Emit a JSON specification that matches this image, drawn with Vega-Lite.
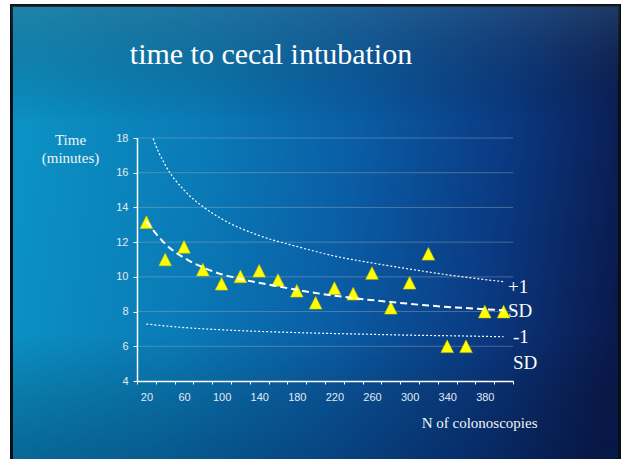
{
  "$schema": "https://vega.github.io/schema/vega-lite/v6.json",
  "width": 376,
  "height": 243,
  "autosize": {"type": "none"},
  "padding": {"left": 137, "top": 138, "right": 110, "bottom": 78},
  "background": "white",
  "config": {"view": {"stroke": null}, "font": "Liberation Sans"},
  "title": {
    "text": "time to cecal intubation",
    "font": "Liberation Serif",
    "fontSize": 30,
    "fontWeight": "normal",
    "color": "white",
    "anchor": "middle",
    "frame": "group",
    "baseline": "alphabetic",
    "dx": -54,
    "offset": -90
  },
  "datasets": {
    "bg": [{"x1": -123.5, "x2": 523.3, "y1": -1.5, "y2": 25.63}],
    "grid": [{"v": 6}, {"v": 8}, {"v": 10}, {"v": 12}, {"v": 14}, {"v": 16}, {"v": 18}],
    "pts": [
      {"n": 20, "t": 13.15}, {"n": 40, "t": 11.0}, {"n": 60, "t": 11.73}, {"n": 80, "t": 10.42},
      {"n": 100, "t": 9.6}, {"n": 120, "t": 10.03}, {"n": 140, "t": 10.35}, {"n": 160, "t": 9.82},
      {"n": 180, "t": 9.2}, {"n": 200, "t": 8.51}, {"n": 220, "t": 9.35}, {"n": 240, "t": 9.03},
      {"n": 260, "t": 10.22}, {"n": 280, "t": 8.22}, {"n": 300, "t": 9.66}, {"n": 320, "t": 11.33},
      {"n": 340, "t": 6.0}, {"n": 360, "t": 6.0}, {"n": 380, "t": 8.0}, {"n": 400, "t": 8.0}
    ],
    "curves": [
      {"s": "mean", "n": 20, "t": 13.2}, {"s": "mean", "n": 30, "t": 12.5}, {"s": "mean", "n": 40, "t": 11.9},
      {"s": "mean", "n": 60, "t": 11.1}, {"s": "mean", "n": 80, "t": 10.55}, {"s": "mean", "n": 100, "t": 10.15},
      {"s": "mean", "n": 120, "t": 9.88}, {"s": "mean", "n": 160, "t": 9.45}, {"s": "mean", "n": 200, "t": 9.07},
      {"s": "mean", "n": 240, "t": 8.78}, {"s": "mean", "n": 280, "t": 8.55}, {"s": "mean", "n": 320, "t": 8.35},
      {"s": "mean", "n": 360, "t": 8.2}, {"s": "mean", "n": 400, "t": 8.07},
      {"s": "up", "n": 20, "t": 19.3}, {"s": "up", "n": 27, "t": 18.0}, {"s": "up", "n": 40, "t": 16.45},
      {"s": "up", "n": 60, "t": 15.0}, {"s": "up", "n": 80, "t": 14.05}, {"s": "up", "n": 100, "t": 13.34},
      {"s": "up", "n": 140, "t": 12.38}, {"s": "up", "n": 180, "t": 11.75}, {"s": "up", "n": 220, "t": 11.2},
      {"s": "up", "n": 260, "t": 10.8}, {"s": "up", "n": 300, "t": 10.45}, {"s": "up", "n": 340, "t": 10.12},
      {"s": "up", "n": 400, "t": 9.72},
      {"s": "lo", "n": 20, "t": 7.28}, {"s": "lo", "n": 60, "t": 7.08}, {"s": "lo", "n": 100, "t": 6.95},
      {"s": "lo", "n": 150, "t": 6.84}, {"s": "lo", "n": 200, "t": 6.76}, {"s": "lo", "n": 250, "t": 6.7},
      {"s": "lo", "n": 300, "t": 6.64}, {"s": "lo", "n": 350, "t": 6.6}, {"s": "lo", "n": 400, "t": 6.55}
    ],
    "labels": [
      {"txt": "+1", "n": 404.7, "t": 9.43},
      {"txt": "SD", "n": 404.7, "t": 8.05},
      {"txt": "-1", "n": 410, "t": 6.51},
      {"txt": "SD", "n": 410, "t": 5.02}
    ]
  },
  "resolve": {"axis": {"x": "independent", "y": "independent"}},
  "layer": [
    {
      "data": {"name": "bg"},
      "mark": {
        "type": "rect",
        "clip": false,
        "stroke": "#0a0f14",
        "strokeWidth": 3,
        "color": {
          "gradient": "linear",
          "x1": 0, "y1": 0.45, "x2": 1, "y2": 0.55,
          "stops": [
            {"offset": 0, "color": "#0b92c4"},
            {"offset": 0.3, "color": "#0a7ab6"},
            {"offset": 0.55, "color": "#0a5ca4"},
            {"offset": 0.8, "color": "#0a3880"},
            {"offset": 1, "color": "#0a1a4e"}
          ]
        }
      },
      "encoding": {
        "x": {"field": "x1", "type": "quantitative", "scale": {"domain": [10, 410], "nice": false, "zero": false}, "axis": null},
        "x2": {"field": "x2"},
        "y": {"field": "y1", "type": "quantitative", "scale": {"domain": [4, 18], "nice": false, "zero": false}, "axis": null},
        "y2": {"field": "y2"}
      }
    },
    {
      "data": {"name": "bg"},
      "mark": {
        "type": "rect",
        "clip": false,
        "color": {
          "gradient": "linear",
          "x1": 0, "y1": 0, "x2": 0, "y2": 1,
          "stops": [
            {"offset": 0, "color": "rgba(70,100,120,0.35)"},
            {"offset": 0.25, "color": "rgba(0,0,0,0)"},
            {"offset": 0.7, "color": "rgba(0,0,0,0)"},
            {"offset": 1, "color": "rgba(0,20,60,0.35)"}
          ]
        }
      },
      "encoding": {
        "x": {"field": "x1", "type": "quantitative", "scale": {"domain": [10, 410], "nice": false, "zero": false}, "axis": null},
        "x2": {"field": "x2"},
        "y": {"field": "y1", "type": "quantitative", "scale": {"domain": [4, 18], "nice": false, "zero": false}, "axis": null},
        "y2": {"field": "y2"}
      }
    },
    {
      "data": {"name": "grid"},
      "mark": {"type": "rule", "color": "#a8b4c0", "opacity": 0.4, "strokeWidth": 1},
      "encoding": {
        "y": {"field": "v", "type": "quantitative", "scale": {"domain": [4, 18], "nice": false, "zero": false}, "axis": null}
      }
    },
    {
      "data": {"name": "pts"},
      "mark": {"type": "point", "shape": "M0,-1L1,1L-1,1Z", "size": 160, "filled": true, "color": "#ffff00", "opacity": 1, "stroke": "#c9c700", "strokeWidth": 0.6},
      "encoding": {
        "x": {
          "field": "n", "type": "quantitative",
          "scale": {"domain": [10, 410], "nice": false, "zero": false},
          "axis": {
            "orient": "bottom", "zindex": 1,
            "values": [10, 30, 50, 70, 90, 110, 130, 150, 170, 190, 210, 230, 250, 270, 290, 310, 330, 350, 370, 390, 410],
            "labels": false, "ticks": true, "tickSize": 3, "tickColor": "white", "tickWidth": 1,
            "domain": true, "domainColor": "white", "domainWidth": 1.5, "grid": false, "title": null
          }
        },
        "y": {
          "field": "t", "type": "quantitative",
          "scale": {"domain": [4, 18], "nice": false, "zero": false},
          "axis": {
            "orient": "left", "zindex": 1,
            "values": [4, 6, 8, 10, 12, 14, 16, 18],
            "domain": true, "domainColor": "white", "domainWidth": 1.5,
            "ticks": true, "tickColor": "white", "tickSize": 4, "tickWidth": 1,
            "labels": true, "labelColor": "#e2eaf2", "labelFont": "Liberation Sans", "labelFontSize": 11, "labelPadding": 5,
            "grid": false,
            "title": ["Time", "(minutes)"],
            "titleAngle": 0, "titleFont": "Liberation Serif", "titleFontSize": 15, "titleFontWeight": "normal",
            "titleColor": "#f0f4f8", "titleX": -67, "titleY": -6, "titleAlign": "center", "titleBaseline": "top",
            "titleLineHeight": 18
          }
        }
      }
    },
    {
      "data": {"name": "curves"},
      "transform": [{"filter": "datum.s === 'up'"}],
      "mark": {"type": "line", "clip": true, "color": "white", "strokeWidth": 1.2, "strokeDash": [2, 2], "interpolate": "monotone"},
      "encoding": {
        "x": {"field": "n", "type": "quantitative", "scale": {"domain": [10, 410], "nice": false, "zero": false}, "axis": null},
        "y": {"field": "t", "type": "quantitative", "scale": {"domain": [4, 18], "nice": false, "zero": false}, "axis": null}
      }
    },
    {
      "data": {"name": "curves"},
      "transform": [{"filter": "datum.s === 'lo'"}],
      "mark": {"type": "line", "clip": true, "color": "white", "strokeWidth": 1.2, "strokeDash": [2, 2], "interpolate": "monotone"},
      "encoding": {
        "x": {"field": "n", "type": "quantitative", "scale": {"domain": [10, 410], "nice": false, "zero": false}, "axis": null},
        "y": {"field": "t", "type": "quantitative", "scale": {"domain": [4, 18], "nice": false, "zero": false}, "axis": null}
      }
    },
    {
      "data": {"name": "curves"},
      "transform": [{"filter": "datum.s === 'mean'"}],
      "mark": {"type": "line", "clip": true, "color": "white", "strokeWidth": 2, "strokeDash": [7, 4], "interpolate": "monotone"},
      "encoding": {
        "x": {
          "field": "n", "type": "quantitative",
          "scale": {"domain": [10, 410], "nice": false, "zero": false},
          "axis": {
            "orient": "bottom", "zindex": 1,
            "values": [20, 60, 100, 140, 180, 220, 260, 300, 340, 380],
            "ticks": false, "domain": false, "grid": false,
            "labelColor": "#e2eaf2", "labelFont": "Liberation Sans", "labelFontSize": 11, "labelPadding": 10,
            "title": "N of colonoscopies",
            "titleFont": "Liberation Serif", "titleFontSize": 15, "titleFontWeight": "normal", "titleColor": "#f0f4f8",
            "titleX": 400, "titleY": 41, "titleAlign": "right", "titleBaseline": "middle"
          }
        },
        "y": {"field": "t", "type": "quantitative", "scale": {"domain": [4, 18], "nice": false, "zero": false}, "axis": null}
      }
    },
    {
      "data": {"name": "labels"},
      "mark": {"type": "text", "clip": false, "align": "left", "baseline": "middle", "font": "Liberation Serif", "fontSize": 19, "color": "white"},
      "encoding": {
        "x": {"field": "n", "type": "quantitative", "scale": {"domain": [10, 410], "nice": false, "zero": false}, "axis": null},
        "y": {"field": "t", "type": "quantitative", "scale": {"domain": [4, 18], "nice": false, "zero": false}, "axis": null},
        "text": {"field": "txt"}
      }
    }
  ]
}
